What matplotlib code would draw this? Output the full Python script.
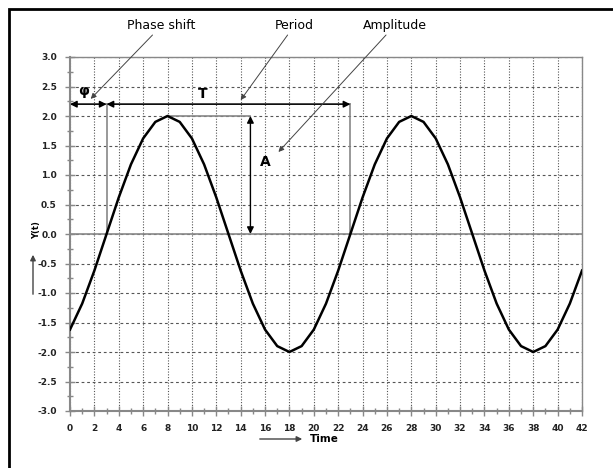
import matplotlib
matplotlib.use('Agg')
import matplotlib.pyplot as plt
from matplotlib.patches import Rectangle, FancyArrowPatch
from matplotlib.ticker import MultipleLocator

# ── Data ──────────────────────────────────────────────────────────────────────
time = list(range(0, 43))
y_t = [-1.62, -1.18, -0.62, 0.00, 0.62, 1.18, 1.62, 1.90, 2.00, 1.90,
       1.62, 1.18, 0.62, 0.00, -0.62, -1.18, -1.62, -1.90, -2.00, -1.90,
       -1.62, -1.18, -0.62, 0.00, 0.62, 1.18, 1.62, 1.90, 2.00, 1.90,
       1.62, 1.18, 0.62, 0.00, -0.62, -1.18, -1.62, -1.90, -2.00, -1.90,
       -1.62, -1.18, -0.62]
x_ticks = list(range(0, 43, 2))
y_ticks = [-3.0, -2.5, -2.0, -1.5, -1.0, -0.5, 0.0, 0.5, 1.0, 1.5, 2.0, 2.5, 3.0]

phase = 3        # start of the first period
period_end = 23  # end of the first period
peak_t = 8
amp = 2.0
amp_x = 14.8
bar_y = 2.2

GRID = '#555555'
AXC = '#888888'

fig = plt.figure(figsize=(6.13, 4.68), dpi=100)
fig.patch.set_facecolor('white')

# outer frame
fig.patches.append(Rectangle((9 / 613, -0.05), 1.1, 1 - 9 / 468 + 0.05,
                             transform=fig.transFigure, fill=False,
                             edgecolor='black', linewidth=2))

ax = fig.add_axes([70 / 613, 57 / 468, 512 / 613, 354 / 468])
ax.set_xlim(0, 42)
ax.set_ylim(-3, 3)
ax.set_xticks(x_ticks)
ax.set_yticks(y_ticks)
ax.set_xticklabels([str(v) for v in x_ticks], fontsize=6.5, fontweight='bold', color='#222222')
ax.set_yticklabels([f"{v:.1f}" for v in y_ticks], fontsize=6.5, fontweight='bold', color='#222222')
ax.xaxis.set_minor_locator(MultipleLocator(1))
ax.yaxis.set_minor_locator(MultipleLocator(0.25))
ax.tick_params(which='major', direction='inout', length=7, width=1, color=AXC, pad=6)
ax.tick_params(which='minor', direction='inout', length=4, width=1, color=AXC)
for s in ax.spines.values():
    s.set_color(AXC)
    s.set_linewidth(1)
ax.spines['left'].set_linewidth(1.5)
ax.spines['bottom'].set_linewidth(1.5)

ax.grid(axis='y', which='major', color=GRID, linestyle=(0, (2.5, 2.5)), linewidth=0.8)
ax.grid(axis='x', which='major', color=GRID, linestyle=(0, (1, 1.5)), linewidth=0.8)
ax.axhline(0, color=AXC, linewidth=1.2)

ax.plot(time, y_t, color='black', linewidth=1.8, zorder=5)

# construction lines
ax.plot([phase, phase], [0, bar_y], color=AXC, linewidth=1.2)
ax.plot([period_end, period_end], [0, bar_y], color=AXC, linewidth=1.2)
ax.plot([peak_t, amp_x], [amp, amp], color=AXC, linewidth=1.2)
ax.plot([0, period_end], [bar_y, bar_y], color=AXC, linewidth=1.2)

dbl = dict(arrowstyle='<|-|>', color='black', lw=1.0, mutation_scale=10, shrinkA=0, shrinkB=0)
ax.annotate('', xy=(0, bar_y), xytext=(phase, bar_y), arrowprops=dbl)
ax.annotate('', xy=(phase, bar_y), xytext=(period_end, bar_y), arrowprops=dbl)
ax.annotate('', xy=(amp_x, amp), xytext=(amp_x, 0), arrowprops=dbl)

ax.text(1.1, 2.42, 'φ', fontsize=10, fontweight='bold', ha='center', va='center')
ax.text(10.9, 2.38, 'T', fontsize=10, fontweight='bold', ha='center', va='center')
ax.text(16.0, 1.22, 'A', fontsize=10, fontweight='bold', ha='center', va='center')

# callouts
call = dict(arrowstyle='-|>', color='#444444', lw=0.7, mutation_scale=8, shrinkA=0, shrinkB=0)
for label, tip, txt in [('Phase shift', (1.7, 2.29), (4.7, 3.42)),
                        ('Period', (14.0, 2.27), (16.8, 3.42)),
                        ('Amplitude', (17.1, 1.39), (24.0, 3.42))]:
    ax.annotate(label, xy=tip, xytext=txt, fontsize=9,
                ha='left', va='bottom', arrowprops=call, annotation_clip=False)

# axis names with arrows
fig.text(37 / 613, 1 - 230 / 468, 'Y(t)', rotation=90, fontsize=6, fontweight='bold',
         ha='center', va='center')
fig.patches.append(FancyArrowPatch(
    (33 / 613, 1 - 297 / 468), (33 / 613, 1 - 252 / 468), transform=fig.transFigure,
    arrowstyle='-|>', mutation_scale=8, color='#444444', lw=1))
fig.text(310 / 613, 1 - 439 / 468, 'Time', fontsize=7.5, fontweight='bold',
         ha='left', va='center')
fig.patches.append(FancyArrowPatch(
    (257 / 613, 1 - 439 / 468), (305 / 613, 1 - 439 / 468), transform=fig.transFigure,
    arrowstyle='-|>', mutation_scale=8, color='#444444', lw=1))

plt.savefig('out.png', dpi=100)
plt.close()
